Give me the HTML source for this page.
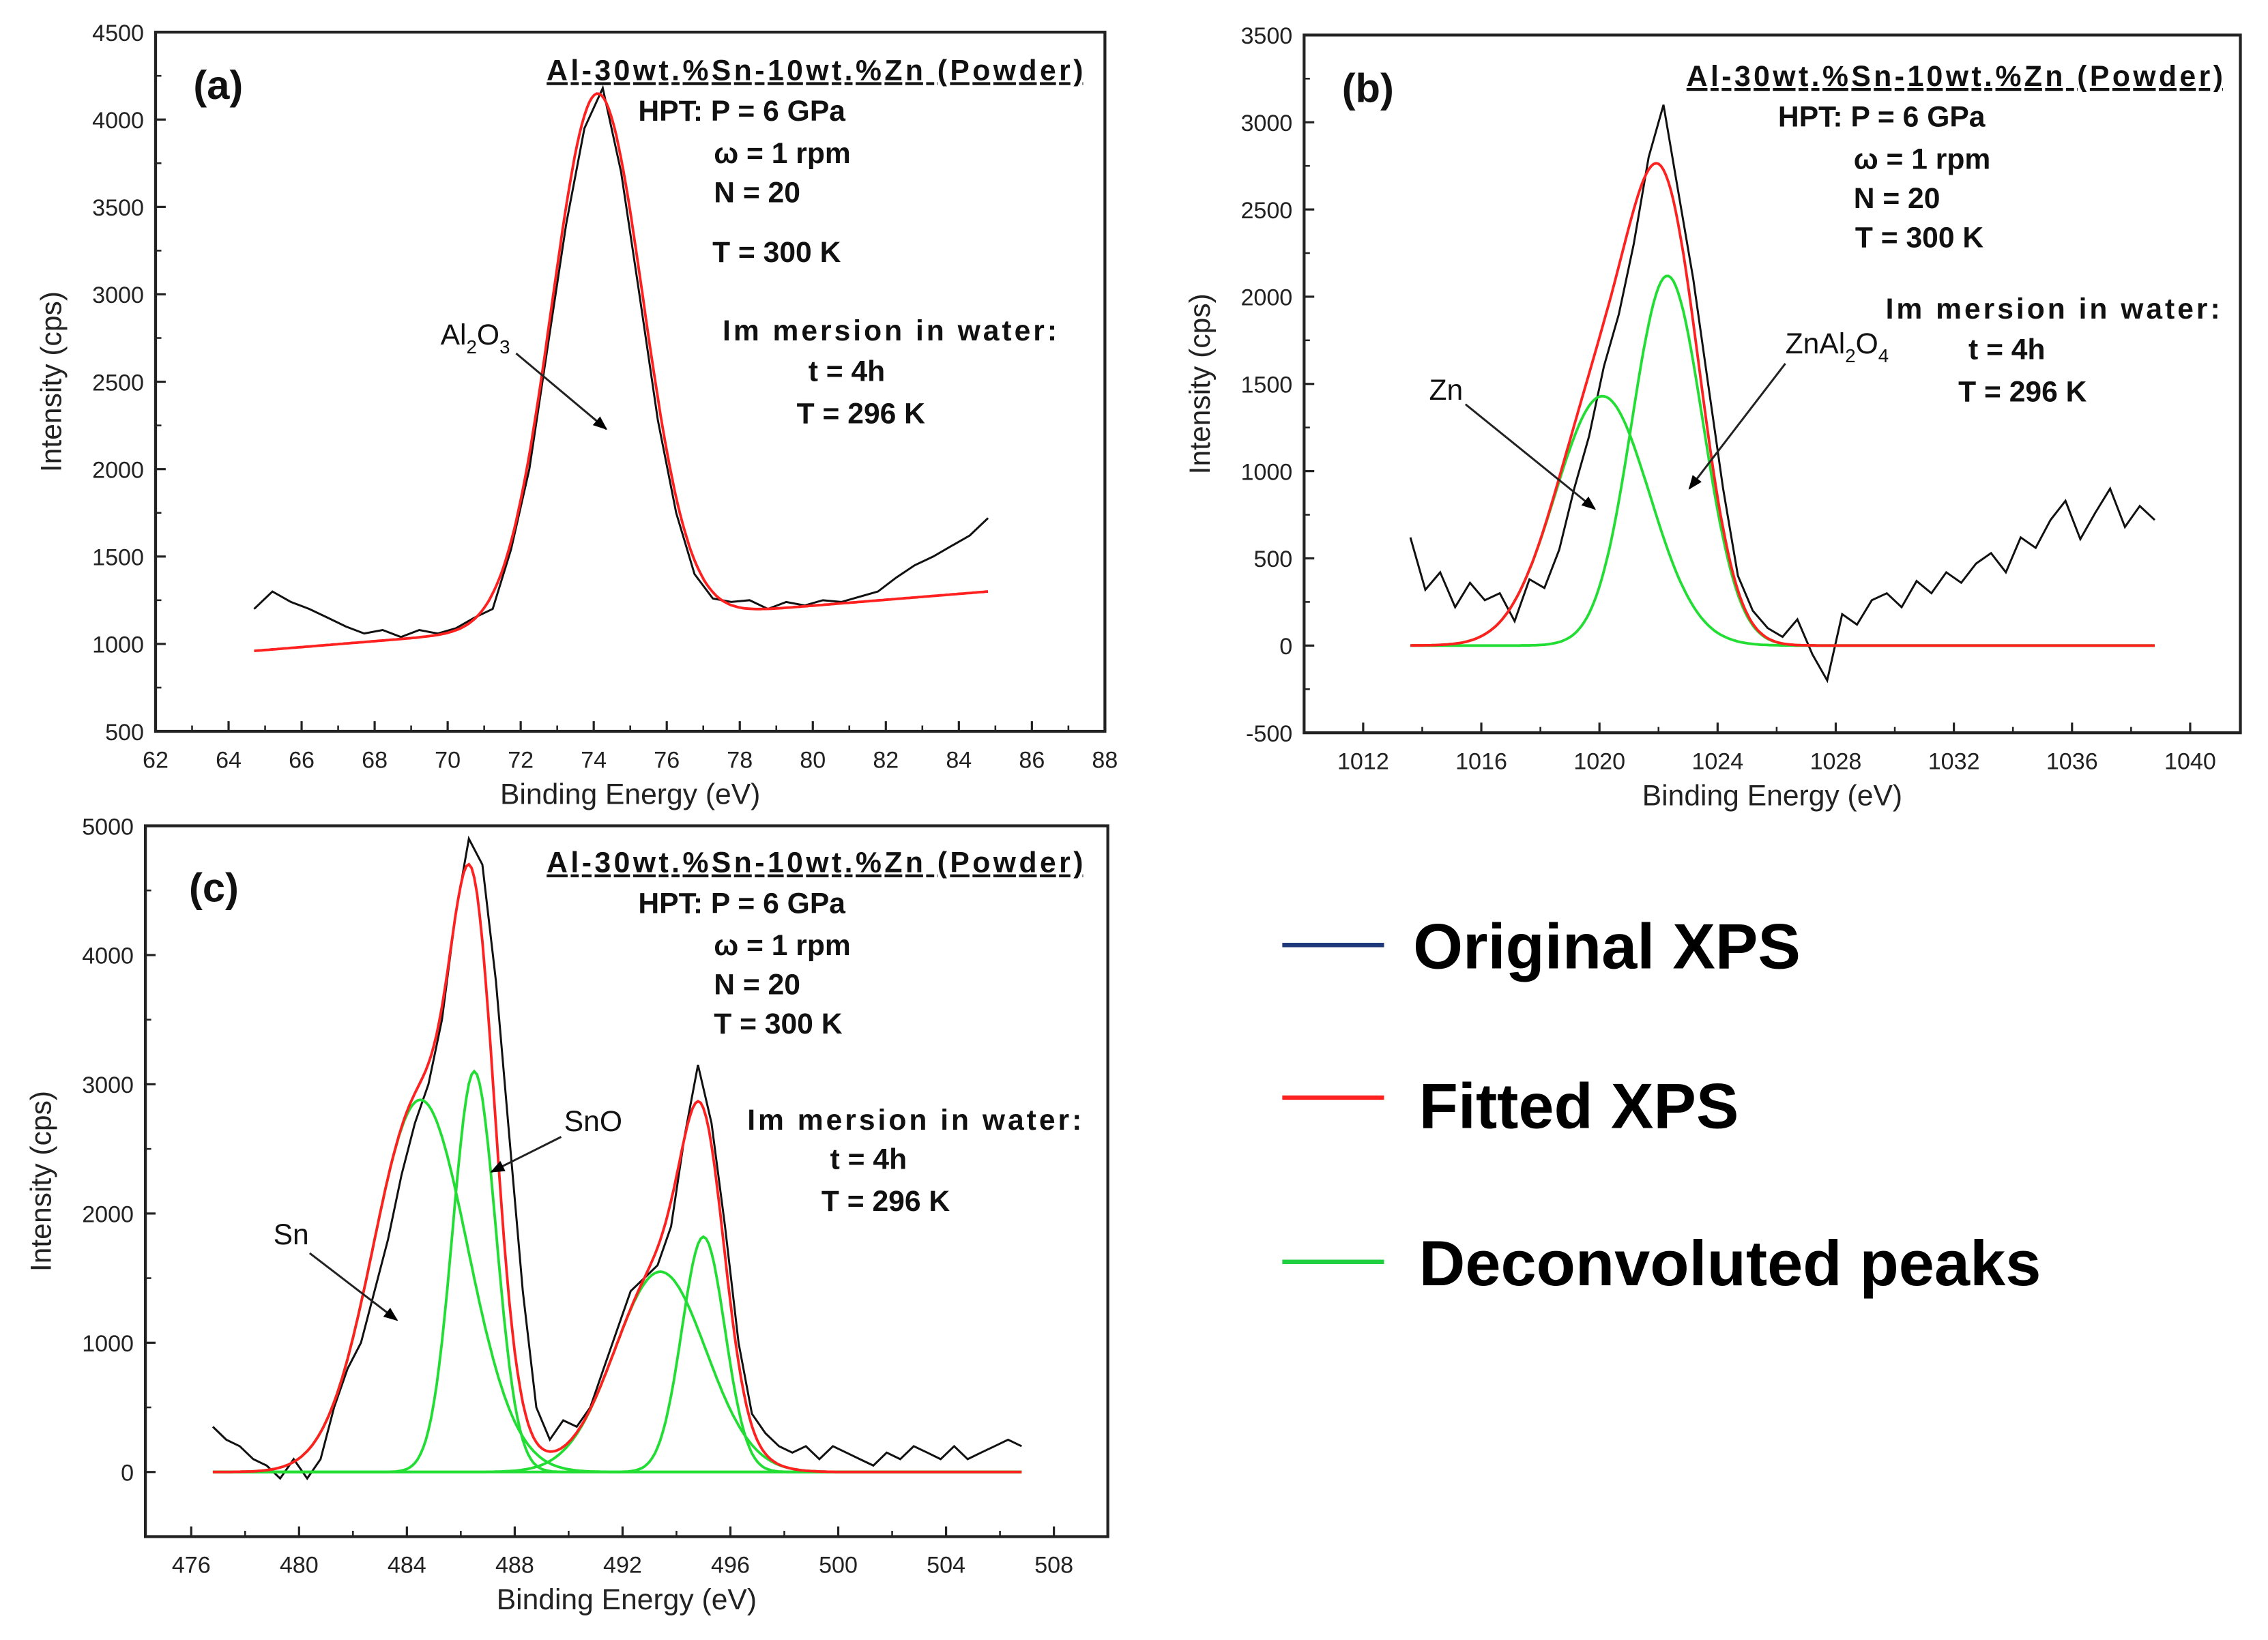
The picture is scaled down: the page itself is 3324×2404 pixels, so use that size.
<!DOCTYPE html>
<html><head><meta charset="utf-8"><style>
html,body{margin:0;padding:0;background:#fff;}
svg{display:block;font-family:"Liberation Sans",sans-serif;}
</style></head><body>
<svg id="fig" width="3324" height="2404" viewBox="0 0 1560 1128" xmlns="http://www.w3.org/2000/svg">
<defs><marker id="ah" viewBox="0 0 10 10" refX="9" refY="5" markerWidth="7" markerHeight="7" orient="auto"><path d="M0,1 L10,5 L0,9 z" fill="#000"/></marker></defs>
<g id="pa"></g>
<g id="pb"></g>
<g id="pc"></g>
<g>
<g><line x1="882" y1="650" x2="952" y2="650" stroke="#1f3a7a" stroke-width="3"/><text x="972" y="666" font-size="44" font-weight="bold">Original XPS</text></g>
<g><line x1="882" y1="755" x2="952" y2="755" stroke="#ff2020" stroke-width="3"/><text x="976" y="776" font-size="44" font-weight="bold">Fitted XPS</text></g>
<g><line x1="882" y1="868" x2="952" y2="868" stroke="#20d040" stroke-width="3"/><text x="976" y="884" font-size="44" font-weight="bold">Deconvoluted peaks</text></g>
</g>
</svg>
<script>
// ---- Panel (a) data ----
const aRange=[64.7,84.8];
const aRaw=[1200,1300,1240,1200,1150,1100,1060,1080,1040,1080,1060,1090,1150,1200,1540,2000,2700,3400,3950,4180,3700,3000,2280,1750,1400,1260,1240,1250,1200,1240,1220,1250,1240,1270,1300,1380,1450,1500,1560,1620,1720];
const aBase=[960,1300];
const aPeaks=[[74.1,3030,1.25]];
// ---- Panel (b) data ----
const bRange=[1013.6,1038.8];
const bRaw=[620,320,420,220,360,260,300,140,380,330,550,900,1200,1600,1900,2300,2800,3100,2600,2100,1500,900,400,200,100,50,150,-50,-200,180,120,260,300,220,370,300,420,360,470,530,420,620,560,720,830,610,760,900,680,800,720];
const bBase=[0,0];
const bPeaks=[[1020.1,1430,1.6],[1022.3,2120,1.2]];
// ---- Panel (c) data ----
const cRange=[476.8,506.8];
const cRaw=[350,250,200,100,50,-50,100,-50,100,500,800,1000,1400,1800,2300,2700,3000,3500,4300,4900,4700,3800,2600,1400,500,250,400,350,500,800,1100,1400,1500,1600,1900,2600,3150,2700,1900,1000,450,300,200,150,200,100,200,150,100,50,150,100,200,150,100,200,100,150,200,250,200];
const cBase=[0,0];
const cPeaks=[[484.5,2880,1.75],[486.5,3100,0.8],[493.4,1550,1.7],[495.0,1820,0.8]];

const NS="http://www.w3.org/2000/svg";
function mk(tag,attrs,parent){const e=document.createElementNS(NS,tag);for(const k in attrs)e.setAttribute(k,attrs[k]);parent.appendChild(e);return e;}
function gauss(x,p){return p[1]*Math.exp(-((x-p[0])**2)/(2*p[2]*p[2]));}

function panel(g,box,xd,yd,xticks,yticks,range,raw,base,peaks,showGreen){
  const X=v=>box.x0+(v-xd[0])/(xd[1]-xd[0])*(box.x1-box.x0);
  const Y=v=>box.y1-(v-yd[0])/(yd[1]-yd[0])*(box.y1-box.y0);
  const fr=mk('rect',{x:box.x0,y:box.y0,width:box.x1-box.x0,height:box.y1-box.y0,fill:'none',stroke:'#222','stroke-width':2},g);
  
  
  xticks.forEach((t,i)=>{
    mk('line',{x1:X(t),x2:X(t),y1:box.y1,y2:box.y1-7,stroke:'#222','stroke-width':1.5},g);
    const tx=mk('text',{x:X(t),y:box.y1+25,'font-size':16,'text-anchor':'middle',fill:'#222'},g);
    tx.textContent=t;
    
    
    if(i<xticks.length-1){const m=(t+xticks[i+1])/2;mk('line',{x1:X(m),x2:X(m),y1:box.y1,y2:box.y1-4,stroke:'#222','stroke-width':1.2},g);}
  });
  yticks.forEach((t,i)=>{
    mk('line',{x1:box.x0,x2:box.x0+7,y1:Y(t),y2:Y(t),stroke:'#222','stroke-width':1.5},g);
    const tx=mk('text',{x:box.x0-8,y:Y(t)+6,'font-size':16,'text-anchor':'end',fill:'#222'},g);
    tx.textContent=t;
    
    
    if(i<yticks.length-1){const m=(t+yticks[i+1])/2;mk('line',{x1:box.x0,x2:box.x0+4,y1:Y(m),y2:Y(m),stroke:'#222','stroke-width':1.2},g);}
  });
  const xt=mk('text',{x:(box.x0+box.x1)/2,y:box.y1+50,'font-size':20,'text-anchor':'middle',fill:'#222'},g);
  xt.textContent='Binding Energy (eV)';
  
  
  const cy=(box.y0+box.y1)/2, cx=box.x0-65;
  const yt=mk('text',{x:cx,y:cy,'font-size':20,'text-anchor':'middle',fill:'#222',transform:`rotate(-90 ${cx} ${cy})`},g);
  yt.textContent='Intensity (cps)';
  
  
  const step=(range[1]-range[0])/(raw.length-1);
  let d=raw.map((v,i)=>(i?'L':'M')+X(range[0]+i*step).toFixed(1)+','+Y(v).toFixed(1)).join(' ');
  const rl=mk('path',{d,fill:'none',stroke:'#111','stroke-width':1.4},g);
  
  
  const N=300;const bl=x=>base[0]+(base[1]-base[0])*(x-range[0])/(range[1]-range[0]);
  if(showGreen){peaks.forEach(p=>{
    let dd='';for(let i=0;i<=N;i++){const x=range[0]+(range[1]-range[0])*i/N;dd+=(i?'L':'M')+X(x).toFixed(1)+','+Y(bl(x)+gauss(x,p)).toFixed(1);}
    const gl=mk('path',{d:dd,fill:'none',stroke:'#22dd33','stroke-width':1.8},g);
    
    
  });}
  let fd='';for(let i=0;i<=N;i++){const x=range[0]+(range[1]-range[0])*i/N;let v=bl(x);peaks.forEach(p=>v+=gauss(x,p));fd+=(i?'L':'M')+X(x).toFixed(1)+','+Y(v).toFixed(1);}
  const fl=mk('path',{d:fd,fill:'none',stroke:'#ff2020','stroke-width':1.8},g);
  
  
}
function txt(g,x,y,s,size,name,extra){const t=mk('text',Object.assign({x,y,'font-size':size,'font-weight':'bold',fill:'#111'},extra||{}),g);t.innerHTML=s;return t;}
function arrow(g,x1,y1,x2,y2){const l=mk('line',{x1,y1,x2,y2,stroke:'#222','stroke-width':1.4,'marker-end':'url(#ah)'},g);}
function info(g,x0,y0){
  txt(g,x0,y0,'Al-30wt.%Sn-10wt.%Zn (Powder)',20,'sample-title',{'text-decoration':'underline',textLength:369,lengthAdjust:'spacing'});
  txt(g,x0+63,y0+28,'HPT:  P = 6 GPa',20,'hpt-pressure');
  txt(g,x0+115,y0+57,'ω = 1 rpm',20,'rotation-speed');
  txt(g,x0+115,y0+84,'N = 20',20,'turns');
}
const A=document.getElementById('pa'),B=document.getElementById('pb'),C=document.getElementById('pc');
panel(A,{x0:107,x1:760,y0:22,y1:503},[62,88],[500,4500],[62,64,66,68,70,72,74,76,78,80,82,84,86,88],[500,1000,1500,2000,2500,3000,3500,4000,4500],aRange,aRaw,aBase,aPeaks,false);
panel(B,{x0:897,x1:1541,y0:24,y1:504},[1010.0,1041.7],[-500,3500],[1012,1016,1020,1024,1028,1032,1036,1040],[-500,0,500,1000,1500,2000,2500,3000,3500],bRange,bRaw,bBase,bPeaks,true);
panel(C,{x0:100,x1:762,y0:568,y1:1057},[474.3,510.0],[-500,5000],[476,480,484,488,492,496,500,504,508],[0,1000,2000,3000,4000,5000],cRange,cRaw,cBase,cPeaks,true);
const IM={textLength:230,lengthAdjust:'spacing'};
txt(A,133,68,'(a)',28,'panel-label-a');
info(A,376,55);
txt(A,490,180,'T =  300 K',20,'temperature');
txt(A,497,234,'Im mersion in water:',20,'immersion-title',IM);
txt(A,556,262,'t = 4h',20,'immersion-time');
txt(A,548,291,'T = 296 K',20,'immersion-temp');
txt(A,303,237,'Al<tspan font-size="13" dy="6">2</tspan><tspan dy="-6">O</tspan><tspan font-size="13" dy="6">3</tspan>',20,'al2o3-label',{'font-weight':'normal'});
arrow(A,355,243,417,295);
txt(B,923,70,'(b)',28,'panel-label-b');
info(B,1160,59);
txt(B,1276,170,'T = 300 K',20,'temperature');
txt(B,1297,219,'Im mersion in water:',20,'immersion-title',IM);
txt(B,1354,247,'t = 4h',20,'immersion-time');
txt(B,1347,276,'T = 296 K',20,'immersion-temp');
txt(B,983,275,'Zn',20,'zn-label',{'font-weight':'normal'});
arrow(B,1008,278,1097,350);
txt(B,1228,243,'ZnAl<tspan font-size="13" dy="6">2</tspan><tspan dy="-6">O</tspan><tspan font-size="13" dy="6">4</tspan>',20,'znal2o4-label',{'font-weight':'normal'});
arrow(B,1228,250,1162,336);
txt(C,130,620,'(c)',28,'panel-label-c');
info(C,376,600);
txt(C,491,711,'T = 300 K',20,'temperature');
txt(C,514,777,'Im mersion in water:',20,'immersion-title',IM);
txt(C,571,804,'t = 4h',20,'immersion-time');
txt(C,565,833,'T = 296 K',20,'immersion-temp');
txt(C,188,856,'Sn',20,'sn-label',{'font-weight':'normal'});
arrow(C,213,862,273,908);
txt(C,388,778,'SnO',20,'sno-label',{'font-weight':'normal'});
arrow(C,386,782,338,806);
</script>
</body></html>
